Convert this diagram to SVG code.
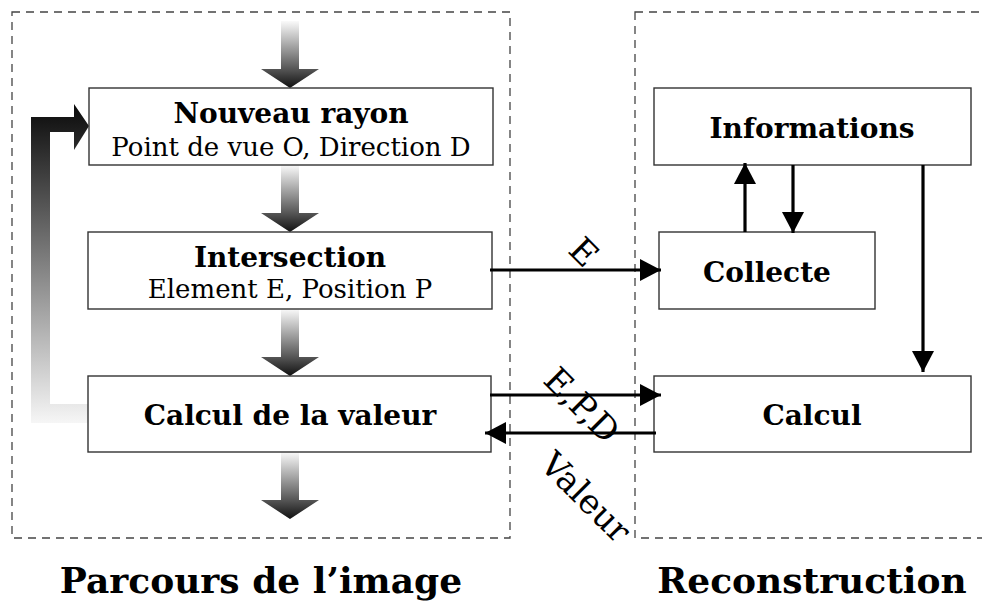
<svg xmlns="http://www.w3.org/2000/svg" width="982" height="606" viewBox="0 0 982 606">
<style>
.frame{fill:none;stroke:#444;stroke-width:1.3;stroke-dasharray:8 6}
.box{fill:#fff;stroke:#333;stroke-width:1.4}
.b{font-family:"DejaVu Serif","Liberation Serif",serif;font-weight:bold;font-size:28px;fill:#000;text-anchor:middle}
.r{font-family:"DejaVu Serif","Liberation Serif",serif;font-size:26px;fill:#000;text-anchor:middle}
.t{font-family:"DejaVu Serif","Liberation Serif",serif;font-weight:bold;font-size:36px;fill:#000;text-anchor:middle}
.lbl{font-family:"DejaVu Serif","Liberation Serif",serif;font-size:34px;fill:#000;text-anchor:middle;dominant-baseline:central}
.con{fill:none;stroke:#000;stroke-width:3.2}
</style>
<defs>
<linearGradient id="gv" x1="0" y1="0" x2="0" y2="1">
<stop offset="0" stop-color="#fafafa"/>
<stop offset="0.72" stop-color="#555"/>
<stop offset="1" stop-color="#111"/>
</linearGradient>
<linearGradient id="gl" gradientUnits="userSpaceOnUse" x1="0" y1="104" x2="0" y2="423">
<stop offset="0" stop-color="#0a0a0a"/>
<stop offset="1" stop-color="#f6f6f6"/>
</linearGradient>
<marker id="ah" markerUnits="userSpaceOnUse" markerWidth="21" markerHeight="22" refX="21" refY="11" orient="auto">
<path d="M0,0 L21,11 L0,22 Z" fill="#000"/>
</marker>
</defs>

<g id="frames">
<rect class="frame" x="12" y="12" width="498" height="526"/>
<rect class="frame" x="635" y="12" width="360" height="526"/>
</g>

<g id="flow">
<polygon fill="url(#gv)" points="281,21 299,21 299,69 319,69 290,88 261,69 281,69"/>
<polygon fill="url(#gv)" points="281,165 299,165 299,213 319,213 290,232 261,213 281,213"/>
<polygon fill="url(#gv)" points="281,309 299,309 299,357 319,357 290,376 261,357 281,357"/>
<polygon fill="url(#gv)" points="281,452 299,452 299,500 319,500 290,519 261,500 281,500"/>
<polygon fill="url(#gl)" points="31,117 74,117 74,104 89,126 74,150 74,132 50,132 50,404 88,404 88,423 31,423"/>
</g>

<g id="nouveau-rayon">
<rect class="box" x="89" y="88" width="404" height="77"/>
<text class="b" x="291" y="123">Nouveau rayon</text>
<text class="r" x="291" y="156">Point de vue O, Direction D</text>
</g>
<g id="intersection">
<rect class="box" x="88" y="232" width="404" height="77"/>
<text class="b" x="290" y="267">Intersection</text>
<text class="r" x="290" y="298">Element E, Position P</text>
</g>
<g id="calcul-valeur">
<rect class="box" x="88" y="376" width="403" height="76"/>
<text class="b" x="290" y="425">Calcul de la valeur</text>
</g>
<g id="informations">
<rect class="box" x="654" y="88" width="317" height="77"/>
<text class="b" x="812" y="138">Informations</text>
</g>
<g id="collecte">
<rect class="box" x="659" y="232" width="216" height="77"/>
<text class="b" x="767" y="282">Collecte</text>
</g>
<g id="calcul">
<rect class="box" x="654" y="376" width="317" height="76"/>
<text class="b" x="812" y="425">Calcul</text>
</g>

<g id="connectors">
<line class="con" x1="490" y1="270" x2="661" y2="270" marker-end="url(#ah)"/>
<line class="con" x1="490" y1="395" x2="661" y2="395" marker-end="url(#ah)"/>
<line class="con" x1="656" y1="433" x2="485" y2="433" marker-end="url(#ah)"/>
<line class="con" x1="923" y1="165" x2="923" y2="372" marker-end="url(#ah)"/>
<line class="con" x1="745" y1="232" x2="745" y2="163" marker-end="url(#ah)"/>
<line class="con" x1="793" y1="165" x2="793" y2="233" marker-end="url(#ah)"/>
</g>

<g id="labels">
<text class="lbl" transform="translate(584,252) rotate(45)">E</text>
<text class="lbl" transform="translate(582,405) rotate(45)">E,P,D</text>
<text class="lbl" transform="translate(586,497) rotate(45)">Valeur</text>
<text class="t" x="261" y="593">Parcours de l’image</text>
<text class="t" x="812" y="593">Reconstruction</text>
</g>
</svg>
